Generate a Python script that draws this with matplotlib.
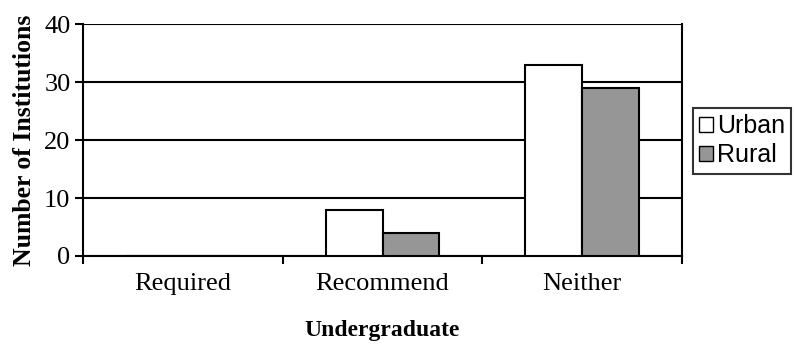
import numpy as np
import matplotlib.pyplot as plt
from matplotlib.patches import Patch

categories = ['Required', 'Recommend', 'Neither']
urban = [0, 8, 33]
rural = [0, 4, 29]

fig = plt.figure(figsize=(7.94, 3.45), dpi=100)
ax = fig.add_axes([0.1045, 0.258, 0.7545, 0.672])

x = np.arange(len(categories))
w = 0.285
ax.bar(x - w / 2, urban, w, color='white', edgecolor='black', linewidth=1.5, zorder=3)
ax.bar(x + w / 2, rural, w, color='#969696', edgecolor='black', linewidth=1.5, zorder=3)

ax.set_xlim(-0.5, 2.5)
ax.set_ylim(0, 40)
ax.set_yticks([0, 10, 20, 30, 40])
ax.yaxis.grid(True, color='black', linewidth=1.5, zorder=0)

# category labels sit between the boundary ticks
ax.set_xticks([-0.5, 0.5, 1.5, 2.5])
ax.set_xticklabels([])
ax.set_xticks(x, minor=True)
ax.set_xticklabels(categories, minor=True, fontfamily='Liberation Serif', fontsize=19)
ax.tick_params(axis='x', which='minor', length=0, pad=12)
ax.tick_params(axis='x', which='major', length=6, width=1.5, direction='out')
ax.tick_params(axis='y', length=6, width=1.5, direction='out', pad=3)
for lab in ax.get_yticklabels():
    lab.set_fontfamily('Liberation Serif')
    lab.set_fontsize(19)

for s in ax.spines.values():
    s.set_linewidth(1.5)
ax.spines['top'].set_visible(False)

ax.set_ylabel('Number of Institutions', fontfamily='Liberation Serif',
              fontweight='bold', fontsize=18.5, labelpad=6)
ax.set_xlabel('Undergraduate', fontfamily='Liberation Serif',
              fontweight='bold', fontsize=17, labelpad=18)

handles = [Patch(facecolor='white', edgecolor='black', linewidth=1),
           Patch(facecolor='#969696', edgecolor='black', linewidth=1)]
leg = fig.legend(handles, ['Urban', 'Rural'], loc='center left',
                 bbox_to_anchor=(0.873, 0.592), frameon=True, fancybox=False,
                 edgecolor='black', handlelength=0.55, handleheight=0.55,
                 handletextpad=0.15, borderpad=0.25, labelspacing=0.2,
                 borderaxespad=0,
                 prop={'family': 'Liberation Sans', 'size': 18})
leg.get_frame().set_linewidth(1.5)

fig.savefig('out.png', dpi=100)
